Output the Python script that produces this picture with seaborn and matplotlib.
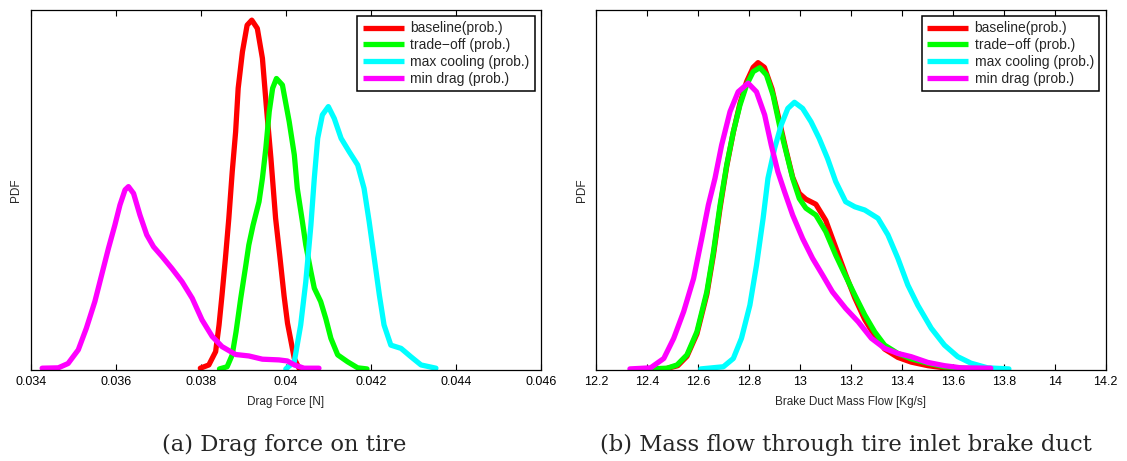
import numpy as np
import pandas as pd
import matplotlib
matplotlib.use("Agg")
import matplotlib.pyplot as plt
import seaborn as sns

# ---------------------------------------------------------------------------
# Data (y = relative PDF, 1.0 = top of the axes)
# ---------------------------------------------------------------------------
SERIES = ["baseline(prob.)", "trade\u2212off (prob.)", "max cooling (prob.)", "min drag (prob.)"]
COLORS = ["#ff0000", "#00ff00", "#00ffff", "#ff00ff"]

# (a) Drag force on tire
drag_baseline_x = [0.03799, 0.03819, 0.03835, 0.03843, 0.0385, 0.03858, 0.03866, 0.03874, 0.03882,
                   0.03888, 0.03898, 0.03909, 0.0392, 0.03933, 0.03945, 0.03954, 0.03965, 0.03976,
                   0.03986, 0.03996, 0.04004, 0.0402, 0.04031]
drag_baseline_y = [0.005, 0.014, 0.051, 0.125, 0.208, 0.31, 0.421, 0.55, 0.661,
                   0.782, 0.883, 0.957, 0.971, 0.948, 0.865, 0.735, 0.587, 0.421,
                   0.315, 0.205, 0.13, 0.032, 0.005]

drag_tradeoff_x = [0.03844, 0.03862, 0.03874, 0.03883, 0.03894, 0.03906, 0.03913, 0.03923, 0.03937,
                   0.03945, 0.03953, 0.03961, 0.03969, 0.03978, 0.03992, 0.04008, 0.0402, 0.04027,
                   0.04039, 0.04047, 0.04059, 0.04067, 0.04082, 0.04094, 0.04106, 0.04122, 0.04145,
                   0.04169, 0.04191]
drag_tradeoff_y = [0.003, 0.009, 0.042, 0.106, 0.199, 0.291, 0.347, 0.402, 0.467,
                   0.532, 0.615, 0.717, 0.782, 0.809, 0.791, 0.689, 0.597, 0.504,
                   0.412, 0.347, 0.273, 0.227, 0.19, 0.143, 0.088, 0.042, 0.023,
                   0.006, 0.003]

drag_maxcool_x = [0.04, 0.0402, 0.04035, 0.04047, 0.04059, 0.04067, 0.04075, 0.04086, 0.041,
                  0.04114, 0.0413, 0.04149, 0.04169, 0.04184, 0.04196, 0.04208, 0.0422, 0.04231,
                  0.04247, 0.04271, 0.04294, 0.04318, 0.04353]
drag_maxcool_y = [0.003, 0.023, 0.125, 0.245, 0.402, 0.532, 0.643, 0.708, 0.731,
                  0.698, 0.643, 0.606, 0.569, 0.504, 0.412, 0.31, 0.208, 0.125,
                  0.069, 0.06, 0.037, 0.014, 0.005]

drag_mindrag_x = [0.03427, 0.03465, 0.03488, 0.03512, 0.03531, 0.03551, 0.03567, 0.03583, 0.03598,
                  0.0361, 0.03622, 0.0363, 0.03642, 0.03657, 0.03673, 0.03689, 0.03709, 0.03732,
                  0.03756, 0.0378, 0.03803, 0.03827, 0.0385, 0.03882, 0.03913, 0.03945, 0.03984,
                  0.04004, 0.0402, 0.04043, 0.04078]
drag_mindrag_y = [0.005, 0.006, 0.018, 0.056, 0.116, 0.19, 0.264, 0.338, 0.402,
                  0.458, 0.5, 0.509, 0.49, 0.43, 0.375, 0.342, 0.315, 0.282,
                  0.245, 0.199, 0.139, 0.093, 0.065, 0.043, 0.039, 0.03, 0.028,
                  0.025, 0.014, 0.005, 0.005]

# (b) Mass flow through tire inlet brake duct
flow_baseline_x = [12.47, 12.52, 12.556, 12.595, 12.634, 12.66, 12.686, 12.712, 12.738, 12.764,
                   12.79, 12.816, 12.835, 12.86, 12.89, 12.919, 12.945, 12.971, 12.997, 13.023,
                   13.062, 13.101, 13.14, 13.179, 13.215, 13.254, 13.293, 13.332, 13.384, 13.436,
                   13.502, 13.567, 13.645]
flow_baseline_y = [0.003, 0.012, 0.038, 0.1, 0.21, 0.32, 0.45, 0.565, 0.66, 0.74,
                   0.8, 0.84, 0.853, 0.84, 0.78, 0.69, 0.61, 0.535, 0.49, 0.474,
                   0.46, 0.415, 0.34, 0.265, 0.2, 0.14, 0.095, 0.058, 0.035, 0.022,
                   0.012, 0.006, 0.003]

flow_tradeoff_x = [12.406, 12.478, 12.517, 12.556, 12.595, 12.634, 12.66, 12.686, 12.712, 12.738,
                   12.764, 12.79, 12.816, 12.842, 12.868, 12.894, 12.919, 12.945, 12.971, 12.997,
                   13.023, 13.062, 13.101, 13.14, 13.176, 13.215, 13.254, 13.293, 13.332, 13.384,
                   13.436, 13.502, 13.567, 13.645, 13.736]
flow_tradeoff_y = [0.003, 0.005, 0.014, 0.042, 0.106, 0.217, 0.328, 0.458, 0.569, 0.661,
                   0.735, 0.791, 0.828, 0.839, 0.819, 0.763, 0.68, 0.606, 0.532, 0.476,
                   0.449, 0.43, 0.384, 0.319, 0.265, 0.208, 0.153, 0.106, 0.069, 0.046,
                   0.031, 0.019, 0.009, 0.005, 0.003]

flow_maxcool_x = [12.61, 12.699, 12.738, 12.77, 12.803, 12.829, 12.855, 12.874, 12.9, 12.926,
                  12.952, 12.978, 13.01, 13.043, 13.075, 13.108, 13.14, 13.179, 13.215, 13.254,
                  13.306, 13.345, 13.384, 13.423, 13.462, 13.515, 13.567, 13.619, 13.671, 13.736,
                  13.82]
flow_maxcool_y = [0.003, 0.009, 0.032, 0.088, 0.18, 0.291, 0.421, 0.532, 0.615, 0.68,
                  0.726, 0.743, 0.726, 0.689, 0.643, 0.587, 0.523, 0.467, 0.453, 0.444,
                  0.421, 0.375, 0.31, 0.236, 0.18, 0.116, 0.069, 0.037, 0.019, 0.006,
                  0.003]

flow_mindrag_x = [12.332, 12.413, 12.465, 12.504, 12.543, 12.582, 12.614, 12.64, 12.666, 12.692,
                  12.725, 12.757, 12.796, 12.829, 12.861, 12.887, 12.913, 12.939, 12.971, 13.01,
                  13.049, 13.088, 13.127, 13.179, 13.228, 13.28, 13.332, 13.384, 13.436, 13.502,
                  13.567, 13.632, 13.749]
flow_mindrag_y = [0.003, 0.006, 0.032, 0.088, 0.162, 0.254, 0.365, 0.458, 0.532, 0.624,
                  0.717, 0.772, 0.796, 0.772, 0.708, 0.624, 0.55, 0.495, 0.43, 0.365,
                  0.31, 0.264, 0.217, 0.171, 0.134, 0.088, 0.06, 0.046, 0.037, 0.021,
                  0.012, 0.006, 0.005]

drag_ticks = [0.034, 0.036, 0.038, 0.040, 0.042, 0.044, 0.046]
drag_ticklabels = ["0.034", "0.036", "0.038", "0.04", "0.042", "0.044", "0.046"]
flow_ticks = [12.2, 12.4, 12.6, 12.8, 13.0, 13.2, 13.4, 13.6, 13.8, 14.0, 14.2]
flow_ticklabels = ["12.2", "12.4", "12.6", "12.8", "13", "13.2", "13.4", "13.6", "13.8", "14", "14.2"]


def long_frame(pairs):
    rows = []
    for name, (xs, ys) in zip(SERIES, pairs):
        rows.append(pd.DataFrame({"x": xs, "y": ys, "series": name}))
    return pd.concat(rows, ignore_index=True)


drag_df = long_frame([(drag_baseline_x, drag_baseline_y), (drag_tradeoff_x, drag_tradeoff_y),
                      (drag_maxcool_x, drag_maxcool_y), (drag_mindrag_x, drag_mindrag_y)])
flow_df = long_frame([(flow_baseline_x, flow_baseline_y), (flow_tradeoff_x, flow_tradeoff_y),
                      (flow_maxcool_x, flow_maxcool_y), (flow_mindrag_x, flow_mindrag_y)])

# ---------------------------------------------------------------------------
# Plot
# ---------------------------------------------------------------------------
sns.set_style("white")
plt.rcParams["font.family"] = ["Liberation Sans", "DejaVu Sans"]
plt.rcParams["lines.solid_joinstyle"] = "round"

fig = plt.figure(figsize=(11.27, 4.61), dpi=100)
ax1 = fig.add_axes([0.0272, 0.1974, 0.4528, 0.7816])
ax2 = fig.add_axes([0.5291, 0.1974, 0.4520, 0.7816])

palette = dict(zip(SERIES, COLORS))

panels = [
    (ax1, drag_df, drag_ticks, drag_ticklabels, "Drag Force [N]"),
    (ax2, flow_df, flow_ticks, flow_ticklabels, "Brake Duct Mass Flow [Kg/s]"),
]
for ax, df, ticks, labels, xlabel in panels:
    sns.lineplot(data=df, x="x", y="y", hue="series", hue_order=SERIES, palette=palette,
                 estimator=None, sort=False, linewidth=3.8, ax=ax)
    ax.set_xlim(ticks[0], ticks[-1])
    ax.set_ylim(0, 1)
    ax.set_xticks(ticks)
    ax.set_xticklabels(labels)
    ax.set_yticks([])
    ax.tick_params(axis="x", direction="in", top=True, bottom=True, length=4, width=0.8,
                   labelsize=9, pad=4, colors="black")
    ax.set_xlabel(xlabel, fontsize=8.5, labelpad=6)
    ax.set_ylabel("PDF", fontsize=8.5, labelpad=6)
    for sp in ax.spines.values():
        sp.set_visible(True)
        sp.set_color("black")
        sp.set_linewidth(0.9)
    leg = ax.legend(loc="upper right", fontsize=10, frameon=True, fancybox=False,
                    framealpha=1, edgecolor="black", handlelength=2.95, handletextpad=0.45,
                    labelspacing=0.2, borderpad=0.4, borderaxespad=0.45)
    leg.get_frame().set_linewidth(1.1)
    for line in leg.get_lines():
        line.set_linewidth(3.8)
        line.set_solid_capstyle("butt")

caption_font = ["DejaVu Serif", "Liberation Serif"]
fig.text(0.252, 0.035, "(a) Drag force on tire", ha="center", va="center",
         fontsize=16.3, family=caption_font)
fig.text(0.7505, 0.035, "(b) Mass flow through tire inlet brake duct", ha="center", va="center",
         fontsize=16.3, family=caption_font)

fig.savefig("out.png", dpi=100, facecolor="white")
